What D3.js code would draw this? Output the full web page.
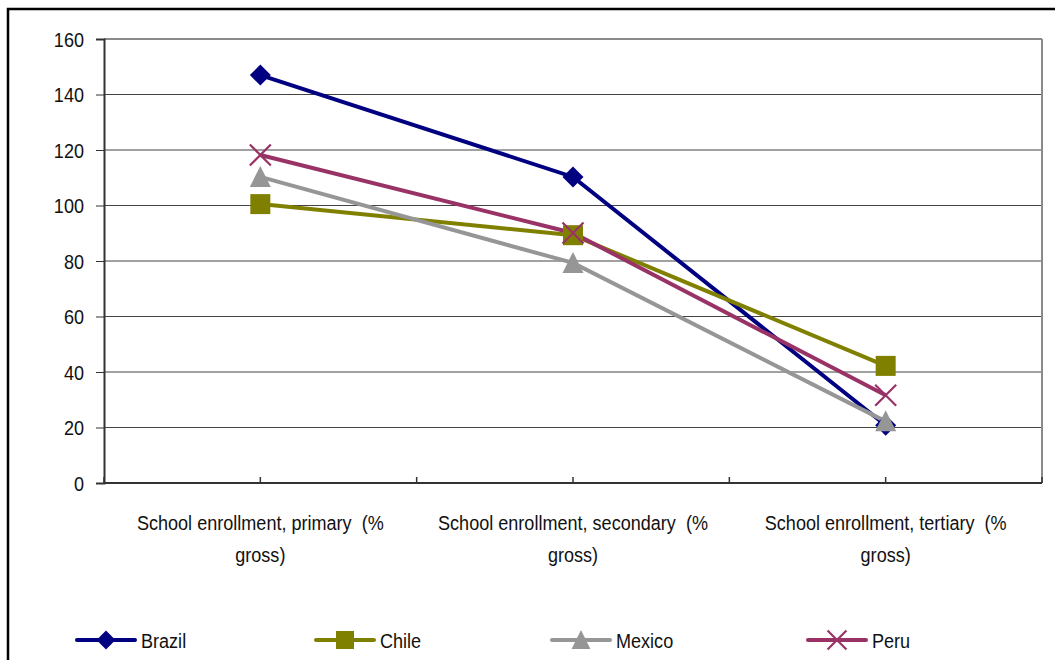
<!DOCTYPE html>
<html>
<head>
<meta charset="utf-8">
<script src="https://cdn.jsdelivr.net/npm/d3@7"></script>
<style>
  html, body { margin: 0; padding: 0; background: #fff; }
  svg { display: block; }
  text { font-family: "Liberation Sans", Arial, sans-serif; fill: #111; }
</style>
</head>
<body>
<svg id="chart" width="1055" height="660"></svg>
<script>
// Gross school enrollment by level, four Latin American countries
const categories = [
  ["School enrollment, primary  (%", "gross)"],
  ["School enrollment, secondary  (%", "gross)"],
  ["School enrollment, tertiary  (%", "gross)"]
];
const countries = ["Brazil", "Chile", "Mexico", "Peru"];
const brazil = [147, 110.3, 20.8];
const chile  = [100.5, 89.3, 42.2];
const mexico = [110.3, 79.3, 22.2];
const peru   = [118.2, 90.1, 31.6];
const yTicks = [0, 20, 40, 60, 80, 100, 120, 140, 160];

const colors = { Brazil: "#000080", Chile: "#808000", Mexico: "#969696", Peru: "#993366" };
const symbolsBy = { Brazil: "diamond", Chile: "square", Mexico: "triangle", Peru: "cross" };
const seriesValues = { Brazil: brazil, Chile: chile, Mexico: mexico, Peru: peru };

const FONT_SIZE = 21;
const NARROW = 0.86;   // horizontal squeeze for a condensed look

const svg = d3.select("#chart");

// condensed text helper: anchored at (x, y), squeezed horizontally
function narrowText(parent, x, y, str, anchor) {
  return parent.append("text")
    .attr("transform", `translate(${x},${y}) scale(${NARROW},1)`)
    .attr("text-anchor", anchor || "start")
    .attr("font-size", FONT_SIZE)
    .style("white-space", "pre")
    .text(str);
}

// outer frame
svg.append("rect")
  .attr("x", 8).attr("y", 9).attr("width", 1100).attr("height", 700)
  .attr("fill", "none").attr("stroke", "#000").attr("stroke-width", 2.5);

const plot = { left: 104, top: 39, right: 1042, bottom: 483 };

const x = d3.scaleBand()
  .domain(d3.range(categories.length))
  .range([plot.left, plot.right])
  .paddingInner(0).paddingOuter(0);

const y = d3.scaleLinear().domain([0, 160]).range([plot.bottom, plot.top]);

// gridlines
svg.append("g").selectAll("line")
  .data(yTicks.filter(d => d > 0))
  .join("line")
  .attr("x1", plot.left).attr("x2", plot.right)
  .attr("y1", d => y(d)).attr("y2", d => y(d))
  .attr("stroke", d => d === 160 ? "#8a8a8a" : "#444")
  .attr("stroke-width", d => d === 160 ? 2 : 1);

// right border of plot area
svg.append("line")
  .attr("x1", plot.right).attr("x2", plot.right)
  .attr("y1", plot.top).attr("y2", plot.bottom)
  .attr("stroke", "#8a8a8a").attr("stroke-width", 2);

// y axis (line and ticks from d3, labels condensed)
const yAxis = d3.axisLeft(y).tickValues(yTicks).tickSize(8).tickFormat("");
const gy = svg.append("g").attr("transform", `translate(${plot.left},0)`).call(yAxis);
gy.select(".domain").attr("stroke", "#333").attr("stroke-width", 2);
gy.selectAll(".tick line").attr("stroke", "#333").attr("stroke-width", 1);
const gyl = svg.append("g");
yTicks.forEach(v => {
  narrowText(gyl, 84, y(v) + 7.5, String(v), "end");
});

// x axis line and ticks (at category edges and centres)
svg.append("line")
  .attr("x1", plot.left).attr("x2", plot.right)
  .attr("y1", plot.bottom).attr("y2", plot.bottom)
  .attr("stroke", "#333").attr("stroke-width", 2);

const tickXs = [];
categories.forEach((c, i) => {
  tickXs.push(x(i));
  tickXs.push(x(i) + x.bandwidth() / 2);
});
tickXs.push(plot.right);
svg.append("g").selectAll("line")
  .data(tickXs)
  .join("line")
  .attr("x1", d => d).attr("x2", d => d)
  .attr("y1", plot.bottom).attr("y2", plot.bottom - 6)
  .attr("stroke", "#333").attr("stroke-width", 1.5);

// category labels
const gx = svg.append("g");
categories.forEach((lines, i) => {
  const cx = x(i) + x.bandwidth() / 2;
  lines.forEach((ln, j) => {
    narrowText(gx, cx, 530 + j * 32, ln, "middle");
  });
});

// marker drawing
function drawMarker(g, name, cx, cy, scale) {
  const c = colors[name];
  const s = scale || 1;
  if (symbolsBy[name] === "diamond") {
    const r = 10.5 * s;
    g.append("path")
      .attr("d", `M${cx},${cy - r}L${cx + r},${cy}L${cx},${cy + r}L${cx - r},${cy}Z`)
      .attr("fill", c);
  } else if (symbolsBy[name] === "square") {
    const h = 10 * s;
    g.append("rect")
      .attr("x", cx - h).attr("y", cy - h)
      .attr("width", 2 * h).attr("height", 2 * h)
      .attr("fill", c);
  } else if (symbolsBy[name] === "triangle") {
    const h = 10.5 * s;
    g.append("path")
      .attr("d", `M${cx},${cy - h * 1.05}L${cx + h},${cy + h * 0.95}L${cx - h},${cy + h * 0.95}Z`)
      .attr("fill", c);
  } else {
    const r = 10.5 * s;
    g.append("path")
      .attr("d", `M${cx - r},${cy - r}L${cx + r},${cy + r}M${cx - r},${cy + r}L${cx + r},${cy - r}`)
      .attr("stroke", c).attr("stroke-width", 2.2).attr("fill", "none");
  }
}

const line = d3.line()
  .x((d, i) => x(i) + x.bandwidth() / 2)
  .y(d => y(d));

const seriesG = svg.append("g");
countries.forEach(name => {
  seriesG.append("path")
    .datum(seriesValues[name])
    .attr("d", line)
    .attr("fill", "none")
    .attr("stroke", colors[name])
    .attr("stroke-width", 4);
});
countries.forEach(name => {
  const g = seriesG.append("g");
  seriesValues[name].forEach((v, i) => {
    drawMarker(g, name, x(i) + x.bandwidth() / 2, y(v));
  });
});

// legend
const legendX = [77, 316, 552, 808];
const legendY = 640;
const lg = svg.append("g");
countries.forEach((name, i) => {
  const lx = legendX[i];
  lg.append("line")
    .attr("x1", lx).attr("x2", lx + 58)
    .attr("y1", legendY).attr("y2", legendY)
    .attr("stroke", colors[name]).attr("stroke-width", 4)
    .attr("stroke-linecap", "round");
  drawMarker(lg, name, lx + 29, legendY, 0.9);
  narrowText(lg, lx + 64, legendY + 7.5, name, "start");
});
</script>
</body>
</html>
